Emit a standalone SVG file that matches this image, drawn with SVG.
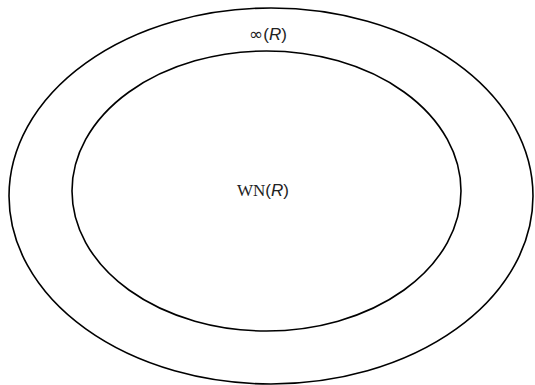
<svg xmlns="http://www.w3.org/2000/svg" width="535" height="385" viewBox="0 0 535 385">
<style>
.e{fill:none;stroke:#000;stroke-width:1.6}
.t{font-family:"Liberation Sans",sans-serif;font-size:17px;fill:#222}
.s{font-family:"Liberation Serif",serif}
.d{font-family:"DejaVu Sans",sans-serif;font-size:17px}
.i{font-style:italic}
</style>
<rect width="535" height="385" fill="#fff"/>
<g id="outer">
<ellipse class="e" cx="271" cy="196" rx="262" ry="188"/>
<text class="t" x="268" y="40" text-anchor="middle"><tspan class="d">∞</tspan>(<tspan class="i">R</tspan>)</text>
</g>
<g id="inner">
<ellipse class="e" cx="266.5" cy="191" rx="194.5" ry="140"/>
<text class="t" x="263" y="196" text-anchor="middle"><tspan class="s">WN</tspan>(<tspan class="i">R</tspan>)</text>
</g>
<g id="connectors"/>
</svg>
